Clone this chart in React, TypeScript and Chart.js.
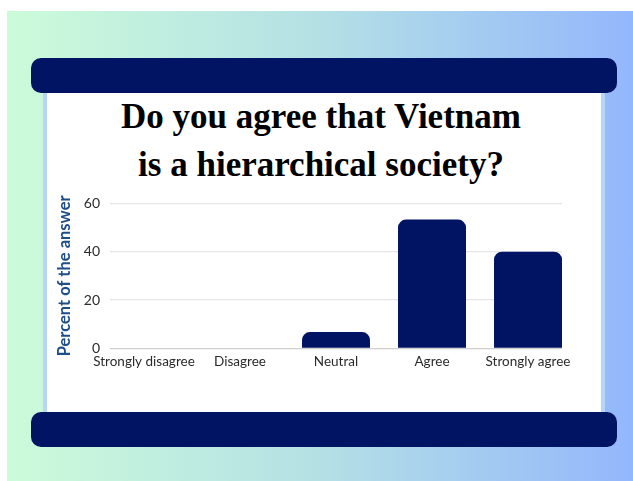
import React, { useEffect, useRef } from 'react';
import { Chart, registerables } from 'chart.js';

Chart.register(...registerables);

const titleLines = ['Do you agree that Vietnam', 'is a hierarchical society?'];
const categories = ['Strongly disagree', 'Disagree', 'Neutral', 'Agree', 'Strongly agree'];
const percentValues = [0, 0, 6.7, 53.3, 40];
const yTickValues = [0, 20, 40, 60];
const yAxisTitle = 'Percent of the answer';

const NAVY = '#011363';
const SANS = 'Lato, "Open Sans", sans-serif';

export default function App() {
  const canvasRef = useRef<HTMLCanvasElement | null>(null);

  useEffect(() => {
    const canvas = canvasRef.current;
    if (!canvas) return;
    const chart = new Chart(canvas, {
      type: 'bar',
      data: {
        datasets: [
          {
            data: categories.map((_, i) => ({ x: i, y: percentValues[i] })),
            backgroundColor: NAVY,
            borderRadius: 8,
            borderSkipped: 'start',
            barPercentage: 0.708,
            categoryPercentage: 1,
          },
        ],
      },
      options: {
        responsive: false,
        animation: false,
        devicePixelRatio: 1,
        layout: { padding: { left: 0, right: 39, top: 15.7, bottom: 36.7 } },
        plugins: {
          legend: { display: false },
          tooltip: { enabled: false },
          title: { display: false },
        },
        scales: {
          x: {
            type: 'linear',
            offset: false,
            bounds: 'ticks',
            min: -0.354,
            max: 4.354,
            afterDataLimits: (scale: any) => {
              scale.min = -0.354;
              scale.max = 4.354;
            },
            afterBuildTicks: (scale: any) => {
              scale.ticks = categories.map((_, i) => ({ value: i }));
            },
            afterFit: (scale: any) => {
              scale.height = 30;
            },
            grid: { display: false, drawTicks: false, offset: false },
            border: { display: false },
            ticks: {
              autoSkip: false,
              maxRotation: 0,
              minRotation: 0,
              padding: 5,
              color: '#2b2b2b',
              font: { family: SANS, size: 13.5 },
              callback: (v: any) => categories[Number(v)] ?? '',
            },
          },
          y: {
            min: 0,
            max: 60,
            afterBuildTicks: (scale: any) => {
              scale.ticks = yTickValues.map((v) => ({ value: v }));
            },
            afterFit: (scale: any) => {
              scale.width = 63;
            },
            grid: {
              drawTicks: false,
              lineWidth: 1.3,
              color: (ctx: any) => (ctx.tick && ctx.tick.value === 0 ? '#cfcfcf' : '#e6e6e6'),
            },
            border: { display: false },
            ticks: {
              padding: 10,
              color: '#2b2b2b',
              font: { family: SANS, size: 14 },
            },
            title: {
              display: true,
              text: yAxisTitle,
              color: '#1d4e8a',
              padding: { top: 8, bottom: 0 },
              font: { family: SANS, size: 16.5, weight: 'bold' },
            },
          },
        },
      },
    });
    return () => chart.destroy();
  }, []);

  return (
    <div
      style={{
        position: 'absolute',
        left: 0,
        top: 0,
        width: 633,
        height: 481,
        background: '#ffffff',
        overflow: 'hidden',
      }}
    >
      <div
        style={{
          position: 'absolute',
          left: 7,
          top: 11,
          width: 626,
          height: 470,
          background: 'linear-gradient(to right, #ccfbd9 0%, #b4e0e5 50%, #93b7fc 100%)',
        }}
      />
      <div
        style={{
          position: 'absolute',
          left: 43,
          top: 90,
          width: 562,
          height: 325,
          background: '#b5d6f8',
        }}
      />
      <div
        style={{
          position: 'absolute',
          left: 47,
          top: 90,
          width: 554,
          height: 325,
          background: '#ffffff',
        }}
      />
      <div
        style={{
          position: 'absolute',
          left: 31,
          top: 58,
          width: 586,
          height: 35,
          borderRadius: 10,
          background: NAVY,
        }}
      />
      <div
        style={{
          position: 'absolute',
          left: 31,
          top: 412,
          width: 586,
          height: 35,
          borderRadius: 10,
          background: NAVY,
        }}
      />
      <div
        style={{
          position: 'absolute',
          left: 121,
          top: 93,
          width: 400,
          textAlign: 'center',
          fontFamily: '"Liberation Serif", "Times New Roman", serif',
          fontWeight: 'bold',
          fontSize: 35,
          lineHeight: '48px',
          color: '#000000',
          whiteSpace: 'nowrap',
        }}
      >
        {titleLines.map((line) => (
          <div key={line}>{line}</div>
        ))}
      </div>
      <canvas
        ref={canvasRef}
        width={554}
        height={230}
        style={{ position: 'absolute', left: 47, top: 185, width: 554, height: 230 }}
      />
    </div>
  );
}
